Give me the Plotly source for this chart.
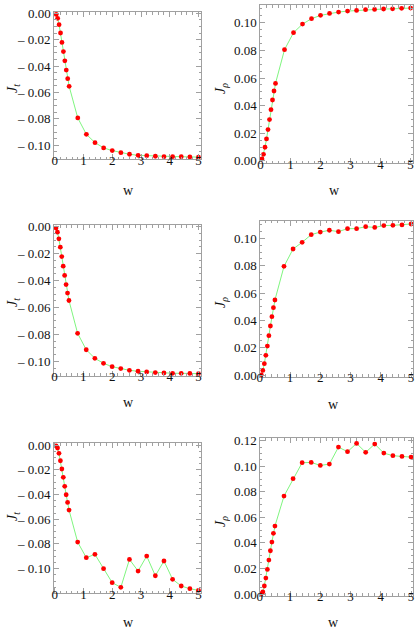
import plotly.graph_objects as go

# sample points (same for all panels)
w = [0.05, 0.1, 0.15, 0.2, 0.25, 0.3, 0.35, 0.4, 0.45, 0.5,
     0.8, 1.1, 1.4, 1.7, 2.0, 2.3, 2.6, 2.9, 3.2, 3.5, 3.8, 4.1, 4.4, 4.7, 5.0]

# row 1
jt_1 = [-0.0008, -0.0038, -0.0086, -0.0149, -0.0220, -0.0290, -0.0360, -0.0430, -0.0495, -0.0553,
        -0.0793, -0.0917, -0.0980, -0.1020, -0.1040, -0.1056, -0.1068, -0.1076, -0.1079, -0.1083,
        -0.1086, -0.1086, -0.1087, -0.1088, -0.1090]
jp_1 = [0.0014, 0.0048, 0.0099, 0.0159, 0.0227, 0.0299, 0.0371, 0.0441, 0.0506, 0.0561,
        0.0805, 0.0928, 0.0990, 0.1029, 0.1053, 0.1067, 0.1077, 0.1084, 0.1089, 0.1094,
        0.1096, 0.1099, 0.1100, 0.1104, 0.1106]
# row 2
jt_2 = [-0.0010, -0.0040, -0.0090, -0.0152, -0.0222, -0.0293, -0.0362, -0.0430, -0.0493, -0.0548,
        -0.0792, -0.0914, -0.0978, -0.1015, -0.1040, -0.1054, -0.1067, -0.1074, -0.1079, -0.1084,
        -0.1087, -0.1089, -0.1089, -0.1090, -0.1092]
jp_2 = [0.0002, 0.0034, 0.0083, 0.0144, 0.0212, 0.0288, 0.0359, 0.0427, 0.0493, 0.0549,
        0.0795, 0.0922, 0.0971, 0.1027, 0.1046, 0.1059, 0.1049, 0.1071, 0.1071, 0.1085,
        0.1080, 0.1093, 0.1095, 0.1098, 0.1105]
# row 3
jt_3 = [-0.0008, -0.0024, -0.0067, -0.0127, -0.0194, -0.0261, -0.0334, -0.0402, -0.0464, -0.0526,
        -0.0785, -0.0911, -0.0884, -0.1000, -0.1113, -0.1151, -0.0925, -0.1019, -0.0898, -0.1057,
        -0.0938, -0.1086, -0.1140, -0.1162, -0.1175]
jp_3 = [0.0003, 0.0016, 0.0063, 0.0125, 0.0193, 0.0266, 0.0339, 0.0407, 0.0475, 0.0532,
        0.0767, 0.0903, 0.1028, 0.1030, 0.1007, 0.1017, 0.1150, 0.1114, 0.1179, 0.1109,
        0.1174, 0.1103, 0.1083, 0.1077, 0.1072]

neg_ticks = [0.0, -0.02, -0.04, -0.06, -0.08, -0.10]
neg_labels = ["0.00", "\u2013\u00a00.02", "\u2013\u00a00.04", "\u2013\u00a00.06",
              "\u2013\u00a00.08", "\u2013\u00a00.10"]
pos_ticks = [0.0, 0.02, 0.04, 0.06, 0.08, 0.10]
pos_labels = ["0.00", "0.02", "0.04", "0.06", "0.08", "0.10"]
pos_ticks_12 = pos_ticks + [0.12]
pos_labels_12 = pos_labels + ["0.12"]
x_ticks = [0, 1, 2, 3, 4, 5]
x_labels = ["0", "1", "2", "3", "4", "5"]

W, H = 415, 633
FONT = "Liberation Serif"
FRAME = "#a0a0a0"
TEXT = "#111111"

# (series, ylabel, frame box in px [x0, y0, x1, y1], xrange, yrange, yticks, ylabels, label positions)
panels = [
    (jt_1, "<i>J</i><sub><i>t</i></sub>", (51.7, 12.3, 200, 159), [-0.02, 5.09], [-0.1104, 0.0008],
     neg_ticks, neg_labels, (10, 88), (127, 190)),
    (jp_1, "<i>J</i><sub><i>\u03c1</i></sub>", (259.3, 5, 414, 163.3), [-0.023, 5.08], [-0.0017, 0.1128],
     pos_ticks, pos_labels, (220, 88), (335, 190)),
    (jt_2, "<i>J</i><sub><i>t</i></sub>", (51.2, 225, 200.3, 375.7), [-0.03, 5.1], [-0.1107, 0.0013],
     neg_ticks, neg_labels, (10, 302), (127, 402)),
    (jp_2, "<i>J</i><sub><i>\u03c1</i></sub>", (259, 220.7, 414, 376.7), [-0.01, 5.065], [-0.0012, 0.1129],
     pos_ticks, pos_labels, (220, 302), (334, 404)),
    (jt_3, "<i>J</i><sub><i>t</i></sub>", (51, 443.3, 200, 593.3), [-0.04, 5.09], [-0.1199, 0.0014],
     neg_ticks, neg_labels, (10, 516), (127, 622)),
    (jp_3, "<i>J</i><sub><i>\u03c1</i></sub>", (259, 438.3, 414, 595.7), [-0.01, 5.065], [-0.0013, 0.1219],
     pos_ticks_12, pos_labels_12, (220, 521), (334, 622)),
]

fig = go.Figure()
annotations = []
for i, (ys, ylab, box, xr, yr, ytv, ytt, ypos, xpos) in enumerate(panels):
    n = "" if i == 0 else str(i + 1)
    x0, y0, x1, y1 = box
    fig.add_trace(go.Scatter(
        x=w, y=ys, mode="lines+markers",
        line=dict(color="#7ff57f", width=1),
        marker=dict(color="#ff0000", size=4.8),
        xaxis="x" + n, yaxis="y" + n, showlegend=False, cliponaxis=False))
    axis_common = dict(
        showline=True, linecolor=FRAME, linewidth=1, mirror="ticks",
        ticks="inside", ticklen=5, tickcolor=FRAME, tickwidth=1,
        showgrid=False, zeroline=False, ticklabeloverflow="allow",
        tickfont=dict(family=FONT, size=13, color=TEXT),
    )
    fig.layout["xaxis" + n] = dict(
        axis_common, domain=[x0 / W, x1 / W], anchor="y" + n, range=xr,
        tickmode="array", tickvals=x_ticks, ticktext=x_labels,
        ticklabelstandoff=-11,
        minor=dict(ticks="inside", ticklen=2.5, tickcolor=FRAME, dtick=0.2, tick0=0, showgrid=False),
    )
    fig.layout["yaxis" + n] = dict(
        axis_common, domain=[1 - y1 / H, 1 - y0 / H], anchor="x" + n, range=yr,
        tickmode="array", tickvals=ytv, showticklabels=False,
        minor=dict(ticks="inside", ticklen=2.5, tickcolor=FRAME, dtick=0.005, tick0=0, showgrid=False),
    )
    # y tick labels placed on the axis values
    for v, t in zip(ytv, ytt):
        annotations.append(dict(
            text=t, x=(x0 - 2) / W, y=v, xref="paper", yref="y" + n,
            showarrow=False, xanchor="right", yanchor="middle", borderpad=0,
            font=dict(family=FONT, size=13, color=TEXT)))
    annotations.append(dict(
        text=ylab, x=ypos[0] / W, y=1 - ypos[1] / H, xref="paper", yref="paper",
        showarrow=False, textangle=-90, xanchor="center", yanchor="middle",
        font=dict(family=FONT, size=14, color=TEXT)))
    annotations.append(dict(
        text="w", x=xpos[0] / W, y=1 - xpos[1] / H, xref="paper", yref="paper",
        showarrow=False, xanchor="center", yanchor="middle",
        font=dict(family=FONT, size=14, color=TEXT)))

fig.update_layout(
    width=W, height=H, margin=dict(l=0, r=0, t=0, b=0),
    paper_bgcolor="white", plot_bgcolor="white",
    annotations=annotations,
)

fig.write_html("out.html", config={"displayModeBar": False},
               post_script="document.body.style.margin='0';")
